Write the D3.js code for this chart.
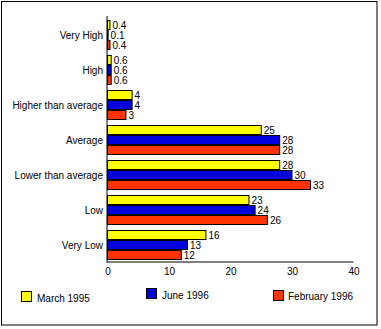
<!DOCTYPE html>
<html><head><meta charset="utf-8">
<script src="https://cdn.jsdelivr.net/npm/d3@7"></script>
<style>
html,body{margin:0;padding:0;background:#fff;}
text{font-family:"Liberation Sans",Arial,sans-serif;font-size:10px;fill:#000;}
</style></head>
<body><svg id="c" width="381" height="329"></svg>
<script>
const categories = ["Very High","High","Higher than average","Average","Lower than average","Low","Very Low"];
const seriesNames = ["March 1995","June 1996","February 1996"];
const march1995 = [0.4,0.6,4,25,28,23,16];
const june1996 = [0.1,0.6,4,28,30,24,13];
const feb1996 = [0.4,0.6,3,28,33,26,12];
const xTicks = [0,10,20,30,40];
const colors = ["#ffff00","#0000dd","#ff3300"];
const seriesValues = [march1995, june1996, feb1996];

const svg = d3.select("#c");
svg.append("rect").attr("x",1.5).attr("y",1.5).attr("width",375.5).attr("height",323.5)
  .attr("fill","none").attr("stroke","#000").attr("stroke-width",1);

const x = d3.scaleLinear().domain([0,40]).range([107.5,353.5]);
const y = d3.scaleBand().domain(categories).range([17.5,262.5]).paddingInner(5/35).paddingOuter(2.5/35);
const ys = d3.scaleBand().domain(d3.range(3)).range([0,y.bandwidth()]);

const g = svg.append("g");
categories.forEach((c,i)=>{
  seriesValues.forEach((vals,s)=>{
    const v = vals[i];
    const y0 = y(c)+ys(s);
    g.append("rect").attr("x",x(0)).attr("y",y0+0.5)
      .attr("width",x(v)-x(0)).attr("height",ys.bandwidth()-1)
      .attr("fill",colors[s]).attr("stroke","#000").attr("stroke-width",1);
    g.append("text").attr("x",x(v)+2.5).attr("y",y0+ys.bandwidth()/2+4)
      .text(v);
  });
  svg.append("text").attr("x",103).attr("y",y(c)+y.bandwidth()/2+4)
    .attr("text-anchor","end").text(c);
});

// axes
const xAxis = d3.axisBottom(x).tickValues(xTicks).tickSize(0).tickPadding(6);
const ax = svg.append("g").attr("transform","translate(0,262)").call(xAxis);
ax.select(".domain").attr("stroke","#000").attr("d",`M${x(0)-0.5},0H${x(40)}`);
ax.selectAll("text").style("font-family","Liberation Sans, Arial, sans-serif").style("font-size","10px").attr("fill","#000");
const yAxis = d3.axisLeft(y).tickSize(0).tickFormat("");
const ay = svg.append("g").attr("transform",`translate(${x(0)-0.5},0)`).call(yAxis);
ay.select(".domain").attr("stroke","#000").attr("d","M0,16V262.5");

// legend
const legendPos = [[21,291,37,302],[146,288,162,299],[273,290,288,300]];
seriesNames.forEach((n,s)=>{
  const p = legendPos[s];
  svg.append("rect").attr("x",p[0]+0.5).attr("y",p[1]+0.5).attr("width",10).attr("height",10)
    .attr("fill",colors[s]).attr("stroke","#000");
  svg.append("text").attr("x",p[2]).attr("y",p[3]).text(n);
});
</script></body></html>
